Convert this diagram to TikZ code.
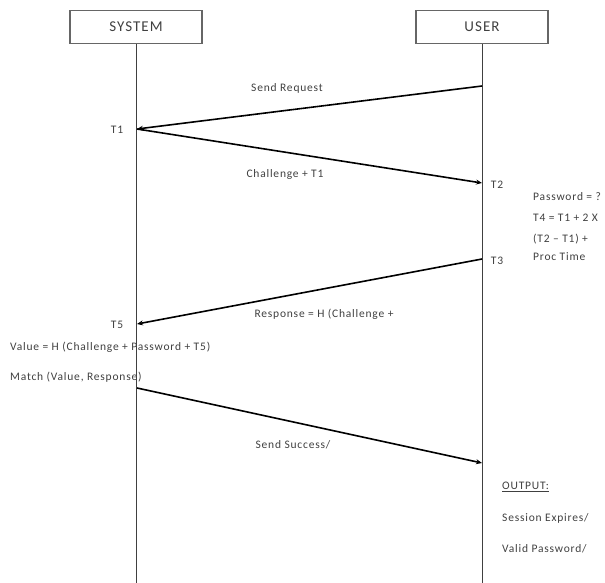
\documentclass[tikz,border=0pt]{standalone}
\usepackage{fontspec}
\setmainfont{Carlito}[LetterSpace=7]
\usetikzlibrary{arrows.meta}
\begin{document}
\begin{tikzpicture}[x=1pt,y=-1pt,
  actor/.style={draw=black!60,line width=1.2pt,minimum width=132pt,minimum height=33pt,inner sep=0pt,font=\fontsize{15}{17}\selectfont,text=black!75},
  life/.style={draw=black!75,line width=0.9pt},
  msg/.style={draw=black,line width=1.6pt,-{Stealth[length=6pt,width=5pt]}},
  lbl/.style={font=\fontsize{11.5}{13}\selectfont,text=black!75,inner sep=0pt},
  note/.style={lbl,anchor=west}]
\useasboundingbox (0,0) rectangle (605,583);
% actors
\node[actor] (sys) at (136,27) {SYSTEM};
\node[actor] (usr) at (482,27) {USER};
% lifelines
\coordinate (sysend) at (136,583);
\coordinate (usrend) at (482,583);
\draw[life] (sys.south) -- (sysend);
\draw[life] (usr.south) -- (usrend);
% message anchor points
\coordinate (u0) at (482,86);
\coordinate (s1) at (137,129);
\coordinate (u2) at (482,183);
\coordinate (u3) at (482,259);
\coordinate (s5) at (137,324);
\coordinate (s6) at (137,388);
\coordinate (u7) at (482,463);
% messages
\draw[msg] (u0) -- (s1);
\draw[msg] (s1) -- (u2);
\draw[msg] (u3) -- (s5);
\draw[msg] (s6) -- (u7);
% message labels
\node[lbl] (l1) at (287,88) {Send Request};
\node[lbl] (l2) at (285,174) {Challenge + T1};
\node[lbl] (l3) at (324,314) {Response = H (Challenge +};
\node[lbl] (l4) at (293,445) {Send Success/};
% time stamps
\node[lbl] (t1) at (117,130) {T1};
\node[lbl] (t2) at (497,185) {T2};
\node[lbl] (t3) at (497,261) {T3};
\node[lbl] (t5) at (117,325) {T5};
% system side notes
\node[note] (n1) at (10,347) {Value = H (Challenge + Password + T5)};
\node[note] (n2) at (10,377) {Match (Value, Response)};
% user side notes
\node[note] (p1) at (533,197) {Password = ?};
\node[note] (p2) at (533,218) {T4 = T1 + 2 X};
\node[note] (p3) at (533,239) {(T2 – T1) +};
\node[note] (p4) at (533,257) {Proc Time};
\node[note] (o1) at (502,487) {\underline{OUTPUT:}};
\node[note] (o2) at (502,518) {Session Expires/};
\node[note] (o3) at (502,549) {Valid Password/};
\end{tikzpicture}
\end{document}
